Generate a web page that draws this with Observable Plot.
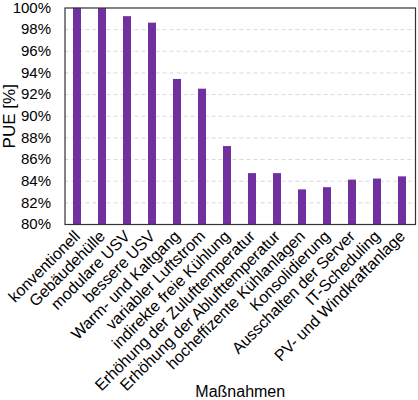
<!DOCTYPE html>
<html>
<head>
<meta charset="utf-8">
<script src="https://cdn.jsdelivr.net/npm/d3@7"></script>
<script src="https://cdn.jsdelivr.net/npm/@observablehq/plot@0.6"></script>
<style>
  html, body { margin: 0; padding: 0; background: #fff; }
  #chart svg { display: block; }
</style>
</head>
<body>
<div id="chart"></div>
<script>
const categories = [
  "konventionell",
  "Gebäudehülle",
  "modulare USV",
  "bessere USV",
  "Warm- und Kaltgang",
  "variabler Luftstrom",
  "indirekte freie Kühlung",
  "Erhöhung der Zulufttemperatur",
  "Erhöhung der Ablufttemperatur",
  "hocheffizente Kühlanlagen",
  "Konsolidierung",
  "Ausschalten der Server",
  "IT-Scheduling",
  "PV- und Windkraftanlage"
];
const pueValues = [100, 99.95, 99.2, 98.6, 93.4, 92.5, 87.2, 84.7, 84.7, 83.2, 83.4, 84.1, 84.2, 84.4];
const yTicks = [80, 82, 84, 86, 88, 90, 92, 94, 96, 98, 100];
const gridTicks = [82, 84, 86, 88, 90, 92, 94, 96, 98];

const data = categories.map((c, i) => ({category: c, value: pueValues[i]}));

const chart = Plot.plot({
  width: 418,
  height: 400,
  marginLeft: 64.5,
  marginRight: 3,
  marginTop: 7.5,
  marginBottom: 176,
  style: {fontFamily: "Liberation Sans, Arial, sans-serif", fontSize: "15px", color: "#000", background: "#fff"},
  x: {domain: categories, paddingInner: 0.68, paddingOuter: 0.34},
  y: {domain: [80, 100]},
  marks: [
    Plot.ruleY(gridTicks, {stroke: "#d9d9d9", strokeDasharray: "4,3", strokeWidth: 1}),
    Plot.barY(data, {x: "category", y1: 80, y2: "value", fill: "#7030a0", clip: true}),
    Plot.frame({stroke: "#333", strokeWidth: 1.2}),
    Plot.axisY({ticks: yTicks, tickFormat: d => d + "%", tickSize: 0, tickPadding: 14, fontSize: 15, label: null}),
    Plot.axisX({tickSize: 0, tickPadding: 9, tickRotate: -45, fontSize: 16, label: null}),
    Plot.text(["PUE [%]"], {frameAnchor: "left", dx: -50, rotate: -90, fontSize: 17, textAnchor: "middle", lineAnchor: "bottom"}),
    Plot.text(["Maßnahmen"], {frameAnchor: "bottom", dy: 172, fontSize: 16, textAnchor: "middle", lineAnchor: "bottom"})
  ]
});
document.getElementById("chart").appendChild(chart);
</script>
</body>
</html>
